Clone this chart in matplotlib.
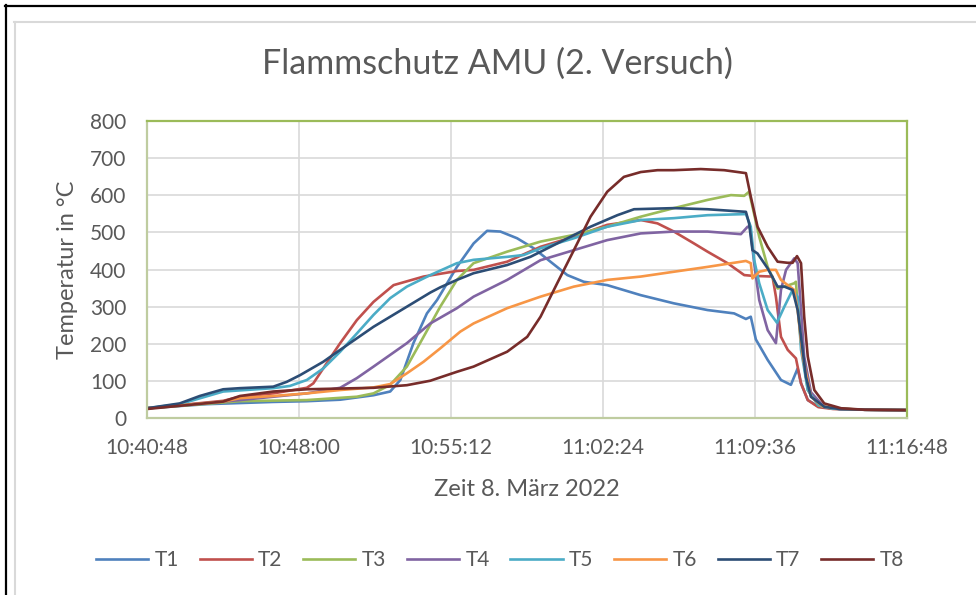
import matplotlib
matplotlib.use('Agg');
import numpy as np;
import matplotlib.pyplot as plt;
from matplotlib.lines import Line2D;

plt.rcParams['font.family'] = ['Lato', 'DejaVu Sans'];

# time axis in minutes after 10:40:48
xticks  = [0, 7.2, 14.4, 21.6, 28.8, 36.0];
xlabels = ['10:40:48', '10:48:00', '10:55:12', '11:02:24', '11:09:36', '11:16:48'];
yticks  = [0, 100, 200, 300, 400, 500, 600, 700, 800];

t1 = [0, 2.82, 5.98, 7.57, 9.15, 10.73, 11.52, 12.0, 12.62, 13.26, 13.74, 14.68, 15.47, 16.11,
      16.74, 17.53, 18.32, 19.11, 19.91, 20.69, 21.80, 23.39, 24.96, 26.55, 27.81, 28.37, 28.60,
      28.84, 29.40, 30.03, 30.50, 30.82, 30.98, 31.30, 31.8, 32.5, 34.0, 36.0];
T1 = [27, 38, 44, 46, 50, 62, 72, 103, 202, 282, 318, 407, 470, 504,
      502, 484, 457, 421, 385, 367, 358, 331, 309, 291, 282, 267, 273,
      212, 157, 103, 90, 134, 94, 49, 32, 26, 23, 22];

t2 = [0, 2.03, 3.61, 4.40, 5.98, 7.57, 7.88, 8.51, 9.15, 9.94, 10.73, 11.68, 13.10, 14.68, 15.47,
      17.06, 18.64, 20.22, 21.80, 23.39, 24.18, 24.96, 25.91, 26.55, 27.50, 28.29, 28.68, 29.63,
      29.79, 30.03, 30.35, 30.74, 30.98, 31.30, 31.8, 32.5, 34.0, 36.0];
T2 = [27, 38, 47, 58, 67, 82, 94, 148, 202, 264, 313, 358, 381, 396, 399,
      421, 461, 488, 520, 533, 524, 502, 470, 448, 417, 385, 383, 381,
      327, 219, 184, 161, 94, 49, 30, 25, 23, 22];

t3 = [0, 4.40, 7.57, 9.94, 10.73, 11.52, 12.31, 13.10, 13.89, 14.68, 15.47, 17.06, 18.64, 20.22,
      21.80, 23.39, 24.96, 26.55, 27.66, 28.29, 28.52, 28.68, 29.00, 29.40, 29.87, 30.19, 30.66,
      30.74, 30.82, 30.98, 31.30, 31.8, 32.5, 34.0, 36.0];
T3 = [27, 46, 49, 58, 67, 90, 139, 219, 300, 372, 417, 448, 475, 493,
      515, 542, 565, 587, 600, 598, 609, 569, 488, 407, 349, 354, 363,
      367, 300, 202, 76, 35, 26, 23, 22];

t4 = [0, 4.40, 5.98, 7.57, 9.15, 9.94, 10.73, 12.31, 13.42, 14.68, 15.47, 17.06, 18.64, 20.22,
      21.80, 23.39, 24.96, 26.55, 28.13, 28.45, 28.57, 28.76, 29.00, 29.40, 29.79, 30.03, 30.27,
      30.66, 30.82, 30.98, 31.13, 31.45, 32.08, 32.8, 34.0, 36.0];
T4 = [27, 49, 58, 67, 82, 108, 139, 202, 255, 296, 327, 372, 425, 452,
      479, 497, 502, 502, 495, 515, 513, 417, 318, 237, 202, 345, 399,
      430, 417, 291, 166, 70, 30, 25, 23, 22];

t5 = [0, 1.55, 3.61, 5.98, 6.77, 7.57, 8.35, 9.15, 9.94, 10.73, 11.52, 12.31, 13.42, 14.68, 15.47,
      17.06, 17.85, 18.64, 20.22, 21.80, 23.39, 24.96, 26.55, 28.37, 28.60, 28.76, 29.00, 29.40,
      29.84, 30.19, 30.58, 30.82, 30.98, 31.30, 31.8, 32.5, 34.0, 36.0];
T5 = [27, 38, 72, 81, 87, 103, 134, 179, 228, 278, 323, 354, 385, 417, 426,
      434, 439, 457, 484, 515, 533, 538, 546, 549, 515, 426, 363, 291,
      257, 300, 345, 327, 184, 76, 35, 26, 23, 22];

t6 = [0, 3.61, 4.40, 5.98, 7.57, 9.15, 10.73, 11.52, 12.31, 13.10, 13.89, 14.84, 15.47, 17.06,
      18.64, 20.22, 21.80, 23.39, 24.96, 26.55, 28.37, 28.60, 28.68, 29.00, 29.40, 29.79, 30.03,
      30.35, 30.66, 30.82, 31.06, 31.45, 32.0, 32.8, 34.0, 36.0];
T6 = [27, 45, 54, 60, 67, 76, 83, 92, 121, 152, 188, 233, 255, 296,
      327, 354, 372, 381, 394, 407, 423, 417, 376, 394, 399, 399, 372,
      358, 345, 291, 166, 58, 32, 26, 23, 22];

t7 = [0, 1.55, 2.50, 3.61, 4.40, 5.98, 6.62, 7.25, 8.35, 9.15, 10.73, 12.31, 13.42, 13.89, 14.68,
      15.47, 17.06, 18.16, 19.43, 21.01, 22.28, 23.07, 24.96, 26.55, 28.37, 28.52, 28.68, 28.92,
      29.40, 29.87, 30.19, 30.58, 30.82, 30.98, 31.21, 31.45, 32.08, 32.8, 34.0, 36.0];
T7 = [27, 40, 60, 78, 81, 85, 98, 116, 152, 184, 246, 300, 338, 352, 372,
      390, 412, 434, 470, 515, 546, 562, 565, 562, 555, 524, 452, 443,
      403, 354, 354, 345, 291, 219, 112, 58, 31, 25, 23, 22];

t8 = [0, 3.61, 4.40, 5.98, 7.57, 10.73, 12.31, 13.42, 13.89, 14.68, 15.47, 17.06, 18.01, 18.64,
      19.43, 20.22, 21.01, 21.80, 22.59, 23.39, 24.18, 24.96, 26.23, 27.34, 28.37, 28.60, 28.92,
      29.40, 29.87, 30.35, 30.58, 30.79, 30.98, 31.13, 31.30, 31.61, 32.08, 32.88, 34.0, 36.0];
T8 = [25, 45, 60, 72, 78, 82, 89, 101, 110, 125, 139, 179, 219, 273,
      363, 452, 542, 609, 649, 662, 667, 667, 670, 667, 659, 596, 515,
      461, 421, 418, 418, 436, 417, 273, 166, 76, 40, 27, 23, 22];

names  = ['T1', 'T2', 'T3', 'T4', 'T5', 'T6', 'T7', 'T8'];
colors = ['#4F81BD', '#C0504D', '#9BBB59', '#8064A2', '#4BACC6', '#F79646', '#2C4D75', '#772C2A'];
series = [(t1, T1), (t2, T2), (t3, T3), (t4, T4), (t5, T5), (t6, T6), (t7, T7), (t8, T8)];

W, H = 976, 595;
fig = plt.figure(figsize=(W/100, H/100), dpi=100);

# frame lines around the chart
def hline(y, x0, c, lw):
    fig.add_artist(Line2D([x0/W, 1], [1-y/H, 1-y/H], color=c, lw=lw));
def vline(x, y0, c, lw):
    fig.add_artist(Line2D([x/W, x/W], [0, 1-y0/H], color=c, lw=lw));
hline(5.7, 4.7, 'black', 1.6);
vline(5.7, 4.7, 'black', 1.6);
hline(22.3, 13.7, '#d9d9d9', 1.5);
vline(14.5, 21.5, '#d9d9d9', 1.5);

ax = fig.add_axes([147/W, 1-418.3/H, 760/W, 297.6/H]);
for (t, v), c, n in zip(series, colors, names):
    ax.plot(t, v, color=c, lw=1.9, label=n, solid_joinstyle='round');

ax.set_xlim(0, 36);
ax.set_ylim(0, 800);
ax.set_xticks(xticks);
ax.set_xticklabels(xlabels);
ax.set_yticks(yticks);
ax.tick_params(length=0, labelsize=15, labelcolor='#595959');
ax.tick_params(axis='x', pad=14);
ax.tick_params(axis='y', pad=15);
ax.grid(True, color='#d9d9d9', lw=1.2);
ax.set_axisbelow(True);
for s in ['top', 'right']:
    ax.spines[s].set_color('#9BBB59');
    ax.spines[s].set_linewidth(1.6);
for s in ['left', 'bottom']:
    ax.spines[s].set_color('#bfcca0');
    ax.spines[s].set_linewidth(1.6);

ax.set_xlabel('Zeit 8. März 2022', fontsize=17, color='#595959', va='center');
ax.xaxis.set_label_coords(0.5, (418.3-490)/297.6);
ax.set_ylabel('Temperatur in °C', fontsize=17, color='#595959', va='center');
ax.yaxis.set_label_coords((68-147)/760, 0.5);

fig.text(497/W, 1-64/H, 'Flammschutz AMU (2. Versuch)', fontsize=24.5, color='#595959',
         ha='center', va='center');

fig.legend(loc='center', bbox_to_anchor=(500/W, 1-560/H), ncol=8, frameon=False,
           fontsize=15, labelcolor='#595959', handlelength=2.5, handletextpad=0.3,
           columnspacing=1.0);

fig.savefig('out.png', dpi=100);
